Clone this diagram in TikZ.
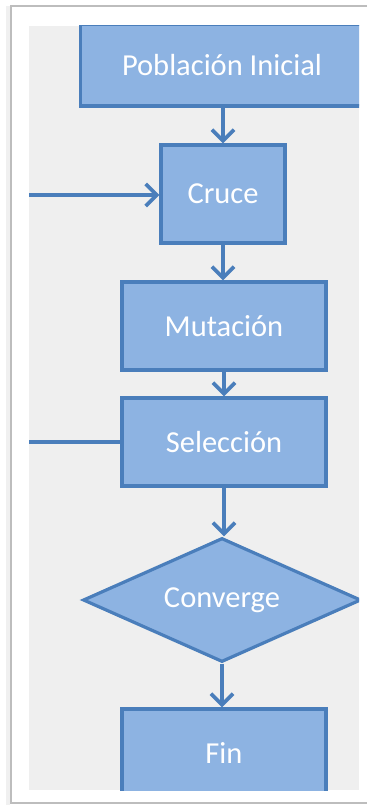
\documentclass[tikz,border=0pt]{standalone}
\usepackage{fontspec}
\setmainfont{Carlito}
\usetikzlibrary{shapes.geometric,arrows.meta}
\definecolor{boxfill}{HTML}{8DB3E2}
\definecolor{boxline}{HTML}{4A7EBB}
\definecolor{panel}{HTML}{EFEFEF}
\definecolor{frameline}{HTML}{BDBDBD}
\begin{document}
\begin{tikzpicture}[x=1pt,y=-1pt,
  stepbox/.style={draw=boxline,line width=3.2pt,fill=boxfill,text=white,
    inner sep=0pt,font=\fontsize{30.5}{36}\selectfont},
  decision/.style={stepbox,diamond,aspect=2.2},
  flow/.style={draw=boxline,line width=3.8pt,
    -{Straight Barb[length=11pt,width=22pt,line width=3.8pt]}}]
\useasboundingbox (0,0) rectangle (367,805);
\fill[white] (0,0) rectangle (367,805);
% page frame with a soft shadow on the left
\fill[gray!12] (6,6) rectangle (10,805);
\draw[frameline,line width=2pt] (367,6.5) -- (11,6.5) -- (11,803) -- (367,803);
% grey drawing area
\fill[panel] (29,26) rectangle (359,790);
\begin{scope}
\clip (29,26) rectangle (359,790);
\node[stepbox,minimum width=283pt,minimum height=82pt] (pop) at (222,65) {Población Inicial};
\node[stepbox,minimum width=124pt,minimum height=98pt] (cruce) at (223,194) {Cruce};
\node[stepbox,minimum width=204pt,minimum height=88pt] (mut) at (224,326) {Mutación};
\node[stepbox,minimum width=204pt,minimum height=88pt] (sel) at (224,442) {Selección};
\node[decision,minimum width=278pt,minimum height=124pt] (conv) at (222,600) {Converge};
\node[stepbox,minimum width=204pt,minimum height=88pt] (fin) at (224,753) {Fin};
\coordinate (inA) at (20,195);
\coordinate (inB) at (20,442);
\draw[flow] (pop.south -| cruce.north) -- (cruce.north);
\draw[flow] (inA) -- (cruce.west |- inA);
\draw[flow] (cruce.south) -- (cruce.south |- mut.north);
\draw[flow] (mut.south) -- (sel.north);
\draw[flow] (sel.south) -- (sel.south |- conv.north);
\draw[flow] (conv.south) -- (conv.south |- fin.north);
\draw[draw=boxline,line width=3.8pt] (sel.west) -- (inB);
\end{scope}
\end{tikzpicture}
\end{document}
